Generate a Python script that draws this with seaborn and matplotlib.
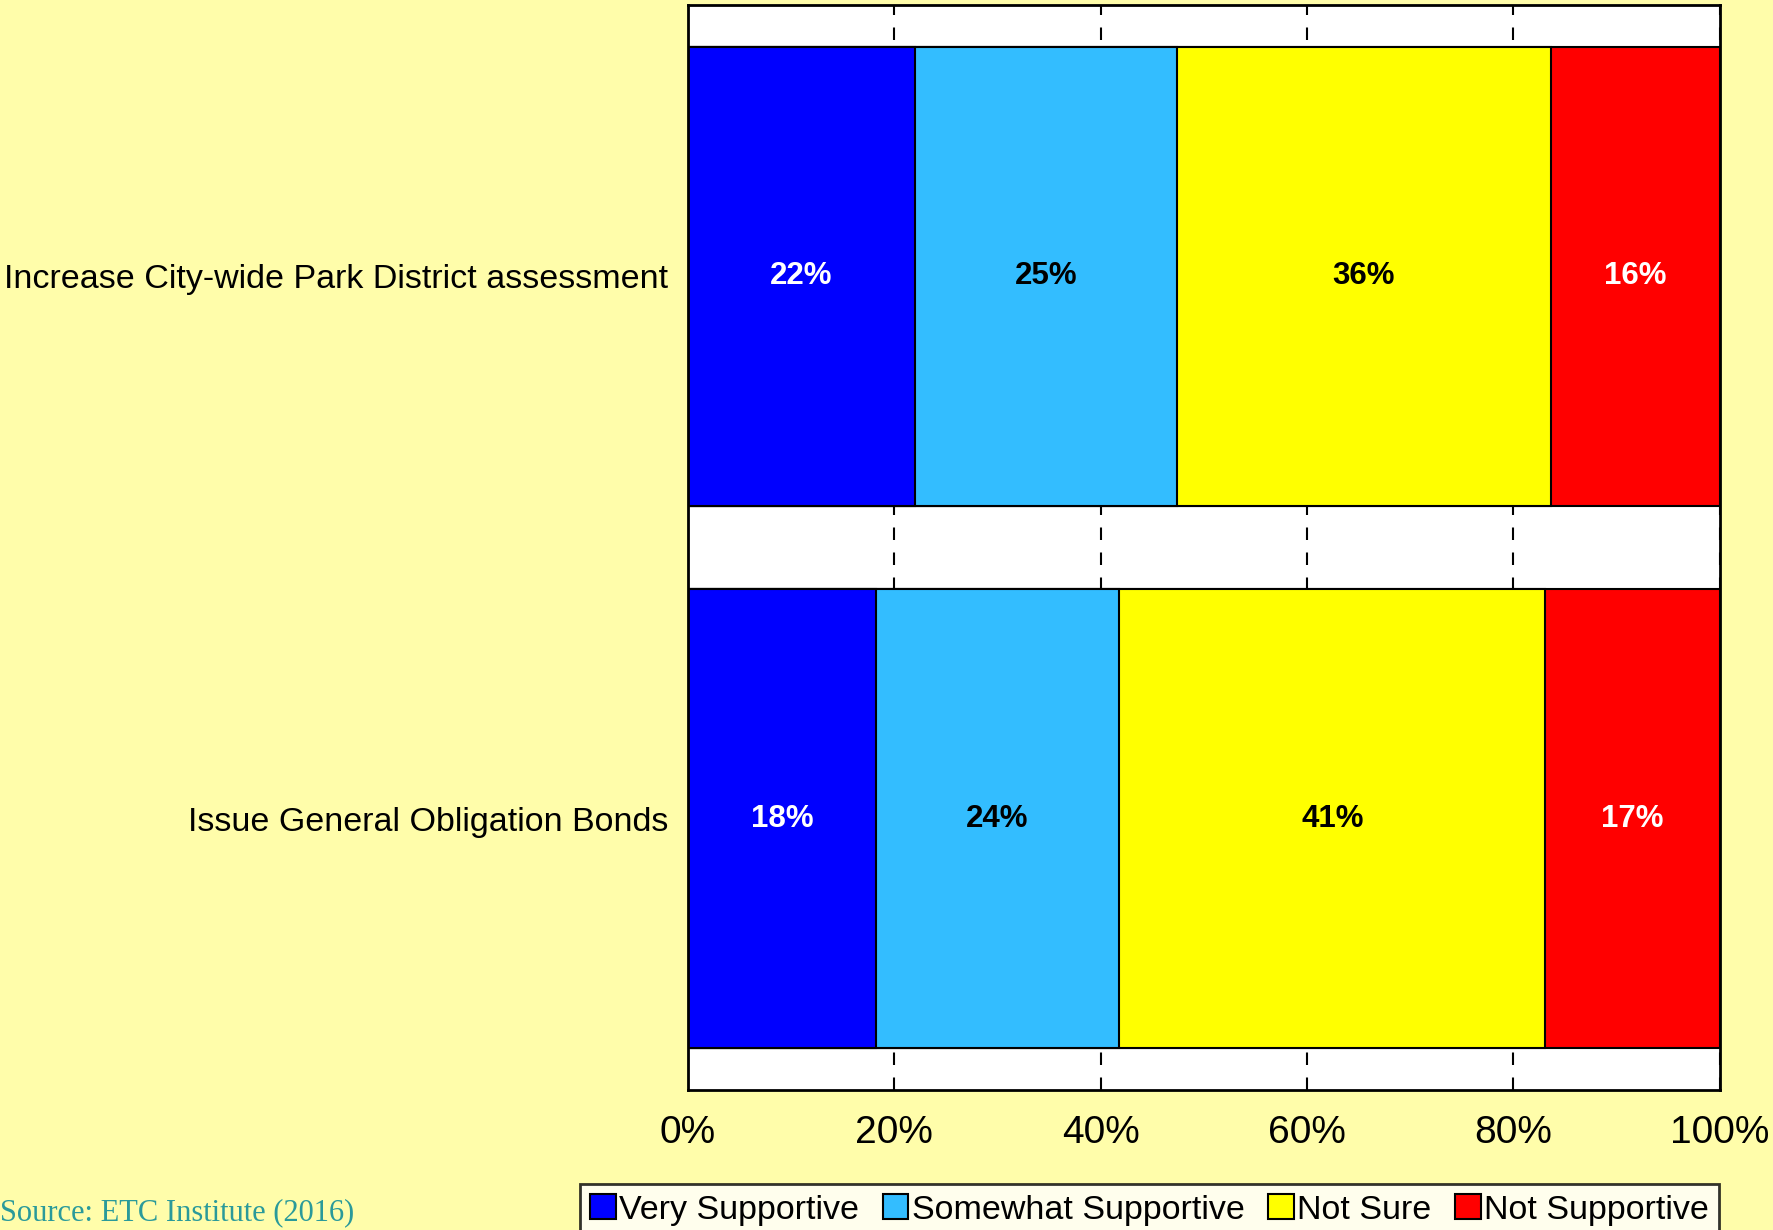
import pandas as pd
import matplotlib.pyplot as plt
import seaborn as sns
from matplotlib.patches import Patch

# survey results, % of respondents
items = ['Increase City-wide Park District assessment', 'Issue General Obligation Bonds']
very_supportive = [22.0, 18.2]
somewhat_supportive = [25.4, 23.6]
not_sure = [36.2, 41.3]
not_supportive = [16.4, 16.9]

levels = ['Very Supportive', 'Somewhat Supportive', 'Not Sure', 'Not Supportive']
colors = ['#0000FF', '#33BDFF', '#FFFF00', '#FF0000']
text_colors = ['white', 'black', 'black', 'white']
ticks = [0, 20, 40, 60, 80, 100]

df = pd.DataFrame({'item': items,
                   levels[0]: very_supportive,
                   levels[1]: somewhat_supportive,
                   levels[2]: not_sure,
                   levels[3]: not_supportive})

# cumulative ends of each segment
cum = df[levels].cumsum(axis=1)
cum['item'] = df['item']

bg = '#FFFDAA'
plt.rcParams['font.family'] = ['Liberation Sans', 'DejaVu Sans']

fig = plt.figure(figsize=(17.73, 12.30), dpi=100, facecolor=bg)
ax = fig.add_axes([0.388, 0.114, 0.582, 0.882])
ax.set_facecolor('white')
ax.set_axisbelow(True)
ax.grid(axis='x', color='black', linestyle=(0, (6, 6)), linewidth=1.5)

# draw longest first so the shorter cumulative bars sit on top
for lev, col in reversed(list(zip(levels, colors))):
    sns.barplot(data=cum, x=lev, y='item', orient='h', color=col, saturation=1,
                width=0.846, edgecolor='black', linewidth=1.5, errorbar=None, ax=ax)

for i in range(len(df)):
    left = 0
    for lev, tc in zip(levels, text_colors):
        v = df.loc[i, lev]
        ax.text(left + v / 2, i, f'{round(v)}%', ha='center', va='center',
                color=tc, fontsize=22.5, fontweight='bold')
        left += v

ax.set_xlim(0, 100)
ax.set_ylim(1.5, -0.5)
ax.set_xticks(ticks)
ax.set_xticklabels([f'{t}%' for t in ticks], fontsize=28)
ax.tick_params(axis='x', length=0, pad=18)
ax.tick_params(axis='y', length=0, pad=14, labelsize=24.5)
ax.set_xlabel('')
ax.set_ylabel('')
for s in ax.spines.values():
    s.set_color('black')
    s.set_linewidth(2)

handles = [Patch(facecolor=c, edgecolor='black', linewidth=1.5, label=l) for l, c in zip(levels, colors)]
leg = fig.legend(handles=handles, loc='upper left', bbox_to_anchor=(0.327, 0.0374), ncol=4,
                 fontsize=24.5, frameon=True, fancybox=False, edgecolor='black',
                 handlelength=0.75, handleheight=0.75, handletextpad=0.1,
                 columnspacing=0.7, borderpad=0.3, borderaxespad=0)
leg.get_frame().set_linewidth(2)

fig.text(0.0, 0.002, 'Source: ETC Institute (2016)', va='bottom', ha='left',
         fontsize=22, color='#2A9A9A', family=['Liberation Serif', 'DejaVu Serif'])

fig.savefig('out.png', dpi=100, facecolor=bg)
